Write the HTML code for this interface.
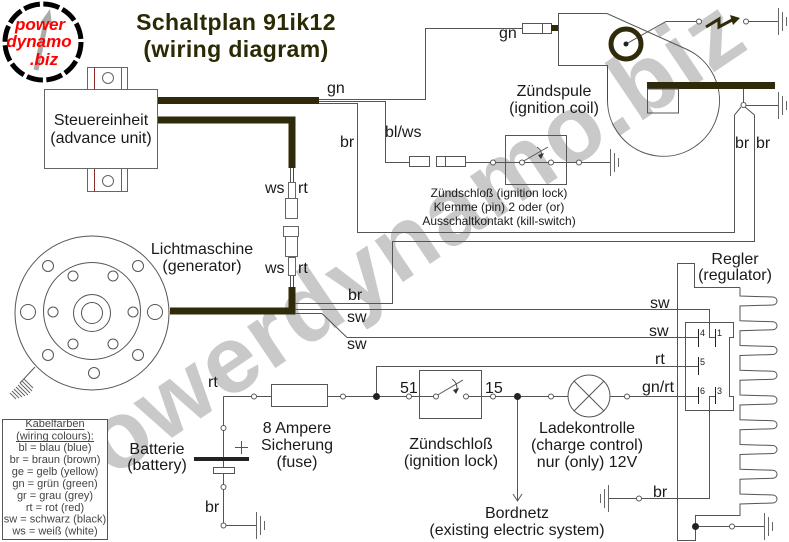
<!DOCTYPE html>
<html><head><meta charset="utf-8"><style>
html,body{margin:0;padding:0;background:#fff;}
svg{display:block;}
text{font-family:"Liberation Sans",Arial,sans-serif;fill:#1a1a1a;}
</style></head><body>
<svg width="789" height="542" viewBox="0 0 789 542" xmlns="http://www.w3.org/2000/svg">
<rect width="789" height="542" fill="#fff"/>

<!-- watermark -->
<text x="0" y="0" transform="translate(62,512) rotate(-34)" font-size="95" font-weight="bold" style="fill:#c9c9c9" letter-spacing="2">powerdynamo.biz</text>

<!-- logo -->
<circle cx="43" cy="42" r="38" fill="#fff" stroke="#000" stroke-width="5" stroke-dasharray="16.4 3.5"/>
<path d="M36,70 L46,22" stroke="#aaa" stroke-width="5" fill="none"/>
<polygon points="40,23 52,25 50,9" fill="#aaa"/>
<text x="40" y="30" font-size="17" font-weight="bold" font-style="italic" text-anchor="middle" style="fill:#f00">power</text>
<text x="39" y="47" font-size="17" font-weight="bold" font-style="italic" text-anchor="middle" style="fill:#f00">dynamo</text>
<text x="44" y="65" font-size="17" font-weight="bold" font-style="italic" text-anchor="middle" style="fill:#f00">.biz</text>

<!-- title -->
<text x="236" y="30" font-size="23" font-weight="bold" text-anchor="middle" letter-spacing="0.4" style="fill:#2b2a05">Schaltplan 91ik12</text>
<text x="236" y="57" font-size="23" font-weight="bold" text-anchor="middle" letter-spacing="0.4" style="fill:#2b2a05">(wiring diagram)</text>

<!-- advance unit -->
<g stroke="#666" fill="#fff" stroke-width="1">
<rect x="44.5" y="89.5" width="113" height="79"/>
<rect x="87.5" y="67.5" width="40" height="22"/>
<rect x="87.5" y="168.5" width="40" height="23"/>
<circle cx="108" cy="78" r="5.5" fill="none"/>
<circle cx="108" cy="181" r="5.5" fill="none"/>
</g>
<g stroke-width="1" fill="none">
<path d="M94.5,67.5 V89" stroke="#8b2a2a"/>
<path d="M121.5,67.5 V89" stroke="#666"/>
<path d="M94.5,169 V191.5" stroke="#8b2a2a"/>
<path d="M121.5,169 V191.5" stroke="#666"/>
</g>
<text x="101" y="125" font-size="16" text-anchor="middle">Steuereinheit</text>
<text x="101" y="143" font-size="16" text-anchor="middle">(advance unit)</text>

<!-- thick cable bundles -->
<rect x="158" y="97" width="161" height="7" fill="#2f2b0a"/>
<path d="M158,120 H292 V168" stroke="#2f2b0a" stroke-width="7" fill="none"/>
<path d="M170,311 H292 V287" stroke="#2f2b0a" stroke-width="7" fill="none"/>

<!-- thin wires -->
<g stroke="#555" stroke-width="1" fill="none">
<path d="M319,99.5 H425.5 V28.5 H522"/>
<path d="M319,101.5 H385.5 V162.5 H409"/>
<path d="M319,103.5 H357.5 V232.5 H734.5 V115 L741,107"/>
<path d="M295,303.5 H392.5 V241.5 H754.5 V115 L745,107"/>
<path d="M743.5,89 V102"/>
<path d="M746,105.5 H778"/>
<path d="M295,309.5 H709.5 V337.5 H715"/>
<path d="M295,313.5 H322 L347,337.5 H698"/>
<path d="M376.5,396 V366.5 H698"/>
<path d="M715,396.5 H709.5 V498.5 H641.5"/>
<path d="M636.5,498.5 H608"/>
<path d="M223.5,396.5 H436"/>
<path d="M466,396.5 H698"/>
<path d="M517.5,396 V501"/>
<path d="M513,494 L517.5,501 L522,494"/>
<path d="M223.5,396.5 V525"/>
<path d="M226,525.5 H256"/>
<path d="M235,447.5 H248 M241.5,441 V454"/>
<path d="M436,396 L463,380"/>
<path d="M452,379 Q459,384 456,392"/>
<path d="M466,162.5 H610"/>
<path d="M522,162 L548,147"/>
<path d="M537,147 Q543,151 541,157"/>
<path d="M290.5,168 V182 M290.5,275 V287"/>
<path d="M558.5,13.5 H607 L686,49 A56,56 0 1 1 607.5,100 V65.5 H558.5 Z"/>
<path d="M626,44 L666,21.5 H697"/>
<path d="M748.5,21.5 H778"/>
<path d="M35,367 L20,383"/>
<path d="M695.5,526.5 H730"/>
<path d="M734.5,526.5 H764"/>
</g>
<g stroke="#8b2a2a" stroke-width="1" fill="none">
<path d="M293.5,168 V182 M293.5,275 V287"/>
<path d="M607.5,66 V100"/>
</g>
<polygon points="453,390 456,394 459,388" fill="#333"/>
<polygon points="538,155 541,159 544,153" fill="#333"/>

<!-- ws/rt connectors -->
<g stroke="#666" fill="#fff" stroke-width="1">
<rect x="288.5" y="182.5" width="7" height="16"/>
<rect x="285.5" y="198.5" width="12" height="20"/>
<rect x="283.5" y="226.5" width="15" height="10"/>
<rect x="285.5" y="236.5" width="12" height="20"/>
<rect x="288.5" y="257.5" width="7" height="18"/>
</g>

<!-- bl/ws connectors & kill switch -->
<g stroke="#555" fill="#fff" stroke-width="1">
<rect x="409.5" y="156.5" width="20" height="10"/>
<rect x="436.5" y="156.5" width="9" height="10"/>
<rect x="445.5" y="156.5" width="20" height="10"/>
<rect x="505.5" y="135.5" width="61" height="49" fill="none"/>
<circle cx="493" cy="162.5" r="2.5"/>
<circle cx="522" cy="162.5" r="2.5"/>
<circle cx="551" cy="162.5" r="2.5"/>
<circle cx="579" cy="162.5" r="2.5"/>
</g>

<!-- gn connector at coil -->
<g stroke="#555" fill="#fff" stroke-width="1">
<rect x="522.5" y="23.5" width="20" height="10"/>
<rect x="542.5" y="23.5" width="9" height="10"/>
</g>
<rect x="551" y="25" width="7" height="6" fill="#2f2b0a"/>

<!-- coil details -->
<circle cx="626" cy="44" r="15" fill="none" stroke="#2f2b0a" stroke-width="5"/>
<circle cx="626" cy="44" r="2.5" fill="#222"/>
<circle cx="699" cy="21.5" r="2.5" fill="#fff" stroke="#555"/>
<circle cx="746" cy="21.5" r="2.5" fill="#fff" stroke="#555"/>
<polyline points="706,27 719,19 719,27 732,20" fill="none" stroke="#2f2b0a" stroke-width="3"/>
<polygon points="730,15 740,18 733,25" fill="#2f2b0a"/>
<rect x="647" y="82" width="128" height="7" fill="#2f2b0a"/>
<rect x="647.5" y="89" width="31" height="24" fill="none" stroke="#555"/>
<circle cx="743.5" cy="105" r="2.5" fill="#fff" stroke="#555"/>

<!-- grounds -->
<g stroke="#666" stroke-width="1" fill="none">
<path d="M778.5,8 V35 M782.5,12 V31 M786.5,17 V26"/>
<path d="M778.5,92 V119 M782.5,96 V115 M786.5,101 V110"/>
<path d="M610.5,149 V176 M614.5,153 V172 M618.5,158 V167"/>
<path d="M256.5,512 V539 M260.5,516 V535 M264.5,521 V530"/>
<path d="M764.5,513 V540 M768.5,517 V536 M772.5,522 V531"/>
<path d="M608.5,485 V512 M604.5,489 V508 M600.5,494 V503"/>
<path d="M22,381 L32,391 M20,383 L30,393 M18,385 L28,395 M16,387 L25,396 M14,389 L22,397 M12,391 L19,398 M10,393 L16,399 M24,379 L33,388"/>
</g>

<!-- generator -->
<g stroke="#555" stroke-width="1" fill="none">
<circle cx="92" cy="313" r="77"/>
<circle cx="92" cy="311" r="48.5"/>
<circle cx="92" cy="313" r="18.5"/>
<circle cx="92" cy="313" r="10.5"/>
<circle cx="28" cy="312" r="7.5"/>
<circle cx="155" cy="312" r="7.5"/>
<circle cx="48" cy="266" r="5.5"/>
<circle cx="138" cy="266" r="5.5"/>
<circle cx="48" cy="355" r="5.5"/>
<circle cx="138" cy="355" r="5.5"/>
<circle cx="94" cy="373" r="5.5"/>
<circle cx="73" cy="276" r="5"/>
<circle cx="113" cy="276" r="5"/>
<circle cx="53" cy="312" r="5"/>
<circle cx="133" cy="312" r="5"/>
<circle cx="73" cy="344" r="5"/>
<circle cx="113" cy="344" r="5"/>
</g>

<!-- regulator -->
<g stroke="#555" stroke-width="1" fill="none">
<path d="M740,287.5 V296 L773,297 A4,4 0 0 1 773,305 L740,306 V320.75 L773,321.75 A4,4 0 0 1 773,329.75 L740,330.75 V345.5 L773,346.5 A4,4 0 0 1 773,354.5 L740,355.5 V370.25 L773,371.25 A4,4 0 0 1 773,379.25 L740,380.25 V395 L773,396 A4,4 0 0 1 773,404 L740,405 V419.75 L773,420.75 A4,4 0 0 1 773,428.75 L740,429.75 V444.5 L773,445.5 A4,4 0 0 1 773,453.5 L740,454.5 V469.25 L773,470.25 A4,4 0 0 1 773,478.25 L740,479.25 V494 L773,495 A4,4 0 0 1 773,503 L740,504 V515.5 H695.5 V540.5 H677.5 V263.5 H694.5 V287.5 H740"/>
<path d="M685.5,322.5 H733.5 V337.5 H729.5 V396.5 H733.5 V410.5 H685.5 Z"/>
</g>
<g stroke="#222" stroke-width="1">
<path d="M698.5,329 V347 M715.5,329 V347 M698.5,357 V375 M698.5,387 V404 M715.5,387 V404"/>
</g>
<text x="700" y="336" font-size="9">4</text>
<text x="717" y="336" font-size="9">1</text>
<text x="700" y="365" font-size="9">5</text>
<text x="700" y="394" font-size="9">6</text>
<text x="717" y="394" font-size="9">3</text>
<circle cx="695.5" cy="526.5" r="3.5" fill="#222"/>
<circle cx="732" cy="526.5" r="2.5" fill="#fff" stroke="#555"/>
<circle cx="639" cy="498.5" r="2.5" fill="#fff" stroke="#555"/>

<!-- main line components -->
<g stroke="#555" stroke-width="1" fill="#fff">
<rect x="271.5" y="384.5" width="56" height="22"/>
<rect x="419.5" y="370.5" width="62" height="48" fill="none"/>
<circle cx="589" cy="396" r="21"/>
<path d="M574,381 L604,411 M604,381 L574,411" fill="none"/>
<circle cx="254" cy="396.5" r="2.5"/>
<circle cx="343" cy="396.5" r="2.5"/>
<circle cx="409" cy="396.5" r="2.5"/>
<circle cx="436" cy="396.5" r="2.5"/>
<circle cx="466" cy="396.5" r="2.5"/>
<circle cx="493" cy="396.5" r="2.5"/>
<circle cx="551" cy="396.5" r="2.5"/>
<circle cx="627" cy="396.5" r="2.5"/>
<circle cx="223.5" cy="428" r="2.5"/>
<circle cx="223.5" cy="487" r="2.5"/>
<circle cx="223.5" cy="525.5" r="2.5"/>
<rect x="213.5" y="467.5" width="21" height="6"/>
</g>
<rect x="194" y="457" width="55" height="4" fill="#222"/>
<circle cx="376.5" cy="396.5" r="3.5" fill="#222"/>
<circle cx="517.5" cy="396.5" r="3.5" fill="#222"/>

<!-- legend -->
<rect x="2.5" y="419.5" width="105" height="120" fill="#fff" stroke="#555"/>
<g font-size="11" text-anchor="middle">
<text x="55" y="427" style="fill:#444">Kabelfarben</text>
<text x="55" y="439.5" style="fill:#444">(wiring colours):</text>
<text x="55" y="451" style="fill:#444">bl = blau (blue)</text>
<text x="55" y="463" style="fill:#444">br = braun (brown)</text>
<text x="55" y="475" style="fill:#444">ge = gelb (yellow)</text>
<text x="55" y="487" style="fill:#444">gn = grün (green)</text>
<text x="55" y="499" style="fill:#444">gr = grau (grey)</text>
<text x="55" y="511" style="fill:#444">rt = rot (red)</text>
<text x="55" y="522.5" style="fill:#444">sw = schwarz (black)</text>
<text x="55" y="534.5" style="fill:#444">ws = weiß (white)</text>
</g>
<path d="M25.5,429.5 H84.5 M16,441.5 H94" stroke="#444" stroke-width="1"/>

<!-- labels -->
<g font-size="16">
<text x="327" y="93">gn</text>
<text x="499" y="38">gn</text>
<text x="340" y="147">br</text>
<text x="385" y="137">bl/ws</text>
<text x="735" y="148">br</text>
<text x="756" y="148">br</text>
<text x="265" y="193">ws</text>
<text x="298" y="193">rt</text>
<text x="265" y="273">ws</text>
<text x="298" y="273">rt</text>
<text x="348" y="300">br</text>
<text x="347" y="322">sw</text>
<text x="347" y="349">sw</text>
<text x="650" y="308">sw</text>
<text x="649" y="336">sw</text>
<text x="655" y="364">rt</text>
<text x="642" y="392">gn/rt</text>
<text x="653" y="497">br</text>
<text x="208" y="387">rt</text>
<text x="205" y="512">br</text>
<text x="400" y="393">51</text>
<text x="485" y="393">15</text>
<text x="554" y="96" text-anchor="middle">Zündspule</text>
<text x="554" y="113" text-anchor="middle">(ignition coil)</text>
<text x="202" y="254" text-anchor="middle">Lichtmaschine</text>
<text x="202" y="271" text-anchor="middle">(generator)</text>
<text x="735" y="264" text-anchor="middle">Regler</text>
<text x="735" y="280" text-anchor="middle">(regulator)</text>
<text x="297" y="433" text-anchor="middle">8 Ampere</text>
<text x="297" y="450" text-anchor="middle">Sicherung</text>
<text x="297" y="467" text-anchor="middle">(fuse)</text>
<text x="451" y="449" text-anchor="middle">Zündschloß</text>
<text x="451" y="466" text-anchor="middle">(ignition lock)</text>
<text x="587" y="433" text-anchor="middle">Ladekontrolle</text>
<text x="587" y="450" text-anchor="middle">(charge control)</text>
<text x="587" y="467" text-anchor="middle">nur (only) 12V</text>
<text x="157" y="454" text-anchor="middle">Batterie</text>
<text x="157" y="470" text-anchor="middle">(battery)</text>
<text x="517" y="518" text-anchor="middle">Bordnetz</text>
<text x="517" y="535" text-anchor="middle">(existing electric system)</text>
</g>
<g font-size="12" text-anchor="middle">
<text x="499" y="197">Zündschloß (ignition lock)</text>
<text x="499" y="211">Klemme (pin) 2 oder (or)</text>
<text x="499" y="225">Ausschaltkontakt (kill-switch)</text>
</g>
</svg>
</body></html>
